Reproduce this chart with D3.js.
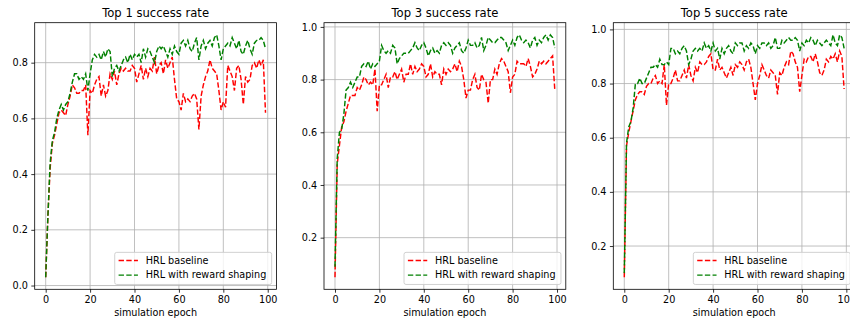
<!DOCTYPE html>
<html>
<head>
<meta charset="utf-8">
<script src="https://cdnjs.cloudflare.com/ajax/libs/d3/7.8.5/d3.min.js"></script>
<style>
  body { margin: 0; background: #fff; }
  svg { display: block; font-family: "DejaVu Sans", sans-serif; }
</style>
</head>
<body>
<div id="chart"></div>
<script>
// ---- data ----
const titles = ["Top 1 success rate", "Top 3 success rate", "Top 5 success rate"];
const seriesNames = ["HRL baseline", "HRL with reward shaping"];
const xLabel = "simulation epoch";
const xTicks = [0, 20, 40, 60, 80, 100];
const yTicksTop1 = [0.0, 0.2, 0.4, 0.6, 0.8];
const yTicksTop3 = [0.2, 0.4, 0.6, 0.8, 1.0];
const yTicksTop5 = [0.2, 0.4, 0.6, 0.8, 1.0];

const top1Baseline = [
  0.03,0.25,0.42,0.51,0.54,0.58,0.62,0.63,0.62,0.61,
  0.65,0.68,0.72,0.71,0.69,0.69,0.70,0.70,0.72,0.54,
  0.70,0.69,0.72,0.74,0.75,0.68,0.72,0.68,0.70,0.76,
  0.74,0.77,0.72,0.76,0.78,0.77,0.78,0.77,0.77,0.79,
  0.78,0.73,0.76,0.79,0.74,0.78,0.75,0.78,0.77,0.82,
  0.76,0.79,0.80,0.76,0.81,0.78,0.80,0.82,0.74,0.67,
  0.66,0.63,0.69,0.66,0.67,0.66,0.68,0.69,0.67,0.56,
  0.68,0.72,0.75,0.77,0.81,0.78,0.77,0.76,0.70,0.63,
  0.66,0.64,0.79,0.77,0.75,0.70,0.78,0.79,0.74,0.65,
  0.75,0.73,0.74,0.79,0.80,0.78,0.81,0.79,0.81,0.62
];
const top1Shaping = [
  0.03,0.25,0.44,0.52,0.55,0.60,0.63,0.65,0.63,0.65,
  0.66,0.69,0.73,0.76,0.76,0.74,0.75,0.74,0.76,0.70,
  0.76,0.81,0.83,0.82,0.83,0.81,0.84,0.82,0.85,0.84,
  0.75,0.78,0.79,0.77,0.79,0.81,0.82,0.80,0.83,0.81,
  0.83,0.82,0.83,0.80,0.85,0.82,0.85,0.84,0.82,0.80,
  0.84,0.86,0.85,0.86,0.84,0.82,0.85,0.83,0.86,0.84,
  0.83,0.87,0.88,0.86,0.88,0.85,0.84,0.87,0.89,0.81,
  0.86,0.88,0.85,0.87,0.88,0.86,0.89,0.90,0.86,0.81,
  0.85,0.86,0.87,0.86,0.89,0.87,0.85,0.88,0.84,0.83,
  0.86,0.88,0.85,0.83,0.87,0.88,0.88,0.89,0.88,0.85
];
const top3Baseline = [
  0.05,0.48,0.55,0.62,0.64,0.68,0.71,0.74,0.74,0.74,
  0.77,0.76,0.78,0.81,0.80,0.78,0.79,0.78,0.84,0.68,
  0.78,0.78,0.80,0.82,0.77,0.81,0.81,0.83,0.80,0.82,
  0.84,0.79,0.82,0.82,0.86,0.82,0.85,0.83,0.84,0.86,
  0.85,0.81,0.82,0.86,0.81,0.83,0.82,0.82,0.78,0.84,
  0.82,0.84,0.83,0.84,0.86,0.83,0.87,0.85,0.80,0.73,
  0.76,0.76,0.80,0.82,0.77,0.76,0.82,0.80,0.79,0.71,
  0.80,0.80,0.84,0.82,0.86,0.88,0.87,0.85,0.83,0.75,
  0.81,0.82,0.87,0.86,0.86,0.86,0.85,0.88,0.85,0.81,
  0.82,0.84,0.87,0.86,0.87,0.86,0.87,0.88,0.89,0.76
];
const top3Shaping = [
  0.09,0.50,0.60,0.61,0.67,0.76,0.77,0.79,0.77,0.79,
  0.81,0.81,0.85,0.86,0.85,0.87,0.84,0.86,0.85,0.86,
  0.87,0.93,0.91,0.90,0.91,0.90,0.93,0.92,0.86,0.88,
  0.89,0.90,0.90,0.90,0.91,0.92,0.94,0.92,0.91,0.93,
  0.94,0.92,0.89,0.91,0.92,0.90,0.91,0.90,0.93,0.94,
  0.93,0.94,0.93,0.90,0.92,0.93,0.94,0.91,0.90,0.92,
  0.95,0.93,0.93,0.94,0.92,0.93,0.96,0.91,0.93,0.96,
  0.95,0.94,0.94,0.95,0.96,0.96,0.95,0.94,0.91,0.93,
  0.95,0.93,0.96,0.97,0.95,0.94,0.95,0.94,0.92,0.95,
  0.96,0.93,0.95,0.94,0.96,0.97,0.95,0.97,0.96,0.92
];
const top5Baseline = [
  0.085,0.57,0.62,0.66,0.70,0.74,0.76,0.77,0.77,0.76,
  0.79,0.80,0.80,0.82,0.83,0.80,0.81,0.80,0.87,0.72,
  0.80,0.80,0.82,0.85,0.81,0.81,0.83,0.85,0.82,0.87,
  0.83,0.81,0.86,0.84,0.88,0.87,0.87,0.88,0.90,0.91,
  0.85,0.85,0.89,0.85,0.86,0.84,0.82,0.84,0.86,0.83,
  0.87,0.86,0.88,0.87,0.85,0.88,0.89,0.86,0.80,0.74,
  0.80,0.83,0.87,0.85,0.83,0.82,0.85,0.84,0.83,0.76,
  0.84,0.83,0.86,0.88,0.87,0.92,0.91,0.88,0.86,0.77,
  0.83,0.89,0.88,0.90,0.90,0.88,0.91,0.88,0.84,0.83,
  0.85,0.89,0.88,0.90,0.89,0.91,0.88,0.92,0.90,0.78
];
const top5Shaping = [
  0.10,0.58,0.64,0.66,0.71,0.80,0.80,0.82,0.80,0.80,
  0.82,0.84,0.86,0.86,0.87,0.86,0.89,0.87,0.87,0.88,
  0.87,0.93,0.93,0.91,0.92,0.91,0.93,0.94,0.92,0.87,
  0.89,0.92,0.93,0.92,0.93,0.92,0.95,0.93,0.94,0.92,
  0.95,0.92,0.93,0.89,0.93,0.91,0.93,0.94,0.92,0.91,
  0.95,0.94,0.95,0.95,0.92,0.94,0.93,0.95,0.94,0.91,
  0.94,0.93,0.95,0.95,0.94,0.95,0.93,0.94,0.97,0.93,
  0.93,0.96,0.95,0.96,0.97,0.96,0.96,0.97,0.96,0.92,
  0.95,0.94,0.96,0.95,0.97,0.96,0.94,0.96,0.95,0.94,
  0.95,0.96,0.95,0.94,0.98,0.95,0.94,0.98,0.97,0.93
];

// ---- layout ----
const W = 850, H = 324;
const panelLeft = [34.7, 324, 613.3];
const plotW = 241.8, plotTop = 22.7, plotBottom = 289.3;
const colors = ["#ff0000", "#008000"];
const tickFont = 9.67, titleFont = 11.6;
const dash = "5.37,2.32";

const panels = [
  { title: titles[0], yTicks: yTicksTop1, series: [top1Baseline, top1Shaping] },
  { title: titles[1], yTicks: yTicksTop3, series: [top3Baseline, top3Shaping] },
  { title: titles[2], yTicks: yTicksTop5, series: [top5Baseline, top5Shaping] }
];

const svg = d3.select("#chart").append("svg")
  .attr("width", W)
  .attr("height", H);

// matplotlib style 5% padding on both axes
function padded(ext) {
  const m = (ext[1] - ext[0]) * 0.05;
  return [ext[0] - m, ext[1] + m];
}

panels.forEach((p, i) => {
  const g = svg.append("g").attr("transform", "translate(" + panelLeft[i] + "," + plotTop + ")");
  const h = plotBottom - plotTop;
  const n = p.series[0].length;

  const xScale = d3.scaleLinear().domain(padded([0, n - 1])).range([0, plotW]);
  const yScale = d3.scaleLinear()
    .domain(padded([d3.min(p.series, s => d3.min(s)), d3.max(p.series, s => d3.max(s))]))
    .range([h, 0]);

  // grid
  g.append("g").selectAll("line").data(xTicks).enter().append("line")
    .attr("x1", d => xScale(d)).attr("x2", d => xScale(d))
    .attr("y1", 0).attr("y2", h)
    .attr("stroke", "#b0b0b0").attr("stroke-width", 0.8);
  g.append("g").selectAll("line").data(p.yTicks).enter().append("line")
    .attr("x1", 0).attr("x2", plotW)
    .attr("y1", d => yScale(d)).attr("y2", d => yScale(d))
    .attr("stroke", "#b0b0b0").attr("stroke-width", 0.8);

  // lines
  const line = d3.line()
    .x((d, j) => xScale(j))
    .y(d => yScale(d));

  p.series.forEach((s, k) => {
    g.append("path")
      .datum(s)
      .attr("d", line)
      .attr("fill", "none")
      .attr("stroke", colors[k])
      .attr("stroke-width", 1.45)
      .attr("stroke-dasharray", dash);
  });

  // axes
  const xAxis = g.append("g")
    .attr("transform", "translate(0," + h + ")")
    .call(d3.axisBottom(xScale).tickValues(xTicks).tickSize(3.4).tickPadding(3.4).tickFormat(d3.format("d")));
  const yAxis = g.append("g")
    .call(d3.axisLeft(yScale).tickValues(p.yTicks).tickSize(3.4).tickPadding(3.4).tickFormat(d3.format(".1f")));
  [xAxis, yAxis].forEach(a => {
    a.select(".domain").remove();
    a.selectAll("line").attr("stroke", "#000").attr("stroke-width", 0.8);
    a.selectAll("text")
      .attr("fill", "#000")
      .style("font-family", "'DejaVu Sans', sans-serif")
      .style("font-size", tickFont + "px");
  });

  // frame
  g.append("rect")
    .attr("width", plotW).attr("height", h)
    .attr("fill", "none").attr("stroke", "#000").attr("stroke-width", 0.8);

  // title and x label
  g.append("text")
    .attr("x", plotW / 2).attr("y", 16.5 - plotTop)
    .attr("text-anchor", "middle")
    .style("font-size", titleFont + "px")
    .attr("fill", "#000")
    .text(p.title);
  g.append("text")
    .attr("x", plotW / 2).attr("y", 316 - plotTop)
    .attr("text-anchor", "middle")
    .style("font-size", tickFont + "px")
    .attr("fill", "#000")
    .text(xLabel);

  // legend, lower right
  const f = tickFont;
  const legend = g.append("g");
  const box = legend.append("rect");
  const labels = seriesNames.map((name, k) => {
    return legend.append("text")
      .style("font-size", f + "px")
      .attr("fill", "#000")
      .text(name);
  });
  const textW = d3.max(labels, t => t.node().getComputedTextLength());
  const rowH = 9.77;
  const lw = 0.4 * f * 2 + 2 * f + 0.8 * f + textW + 1.5;
  const lh = 0.4 * f * 2 + rowH * 2 + 0.5 * f;
  const lx = plotW - 0.5 * f - lw;
  const ly = h - 0.5 * f - lh;
  box.attr("x", lx).attr("y", ly).attr("width", lw).attr("height", lh)
    .attr("rx", 2).attr("ry", 2)
    .attr("fill", "#fff").attr("fill-opacity", 0.8)
    .attr("stroke", "#cccccc").attr("stroke-width", 0.9);
  seriesNames.forEach((name, k) => {
    const rowTop = ly + 0.4 * f + k * (rowH + 0.5 * f);
    legend.append("line")
      .attr("x1", lx + 0.4 * f).attr("x2", lx + 0.4 * f + 2 * f)
      .attr("y1", rowTop + 4.3).attr("y2", rowTop + 4.3)
      .attr("stroke", colors[k]).attr("stroke-width", 1.45)
      .attr("stroke-dasharray", dash);
    labels[k]
      .attr("x", lx + 0.4 * f + 2 * f + 0.8 * f)
      .attr("y", rowTop + 7.6);
  });
});
</script>
</body>
</html>
